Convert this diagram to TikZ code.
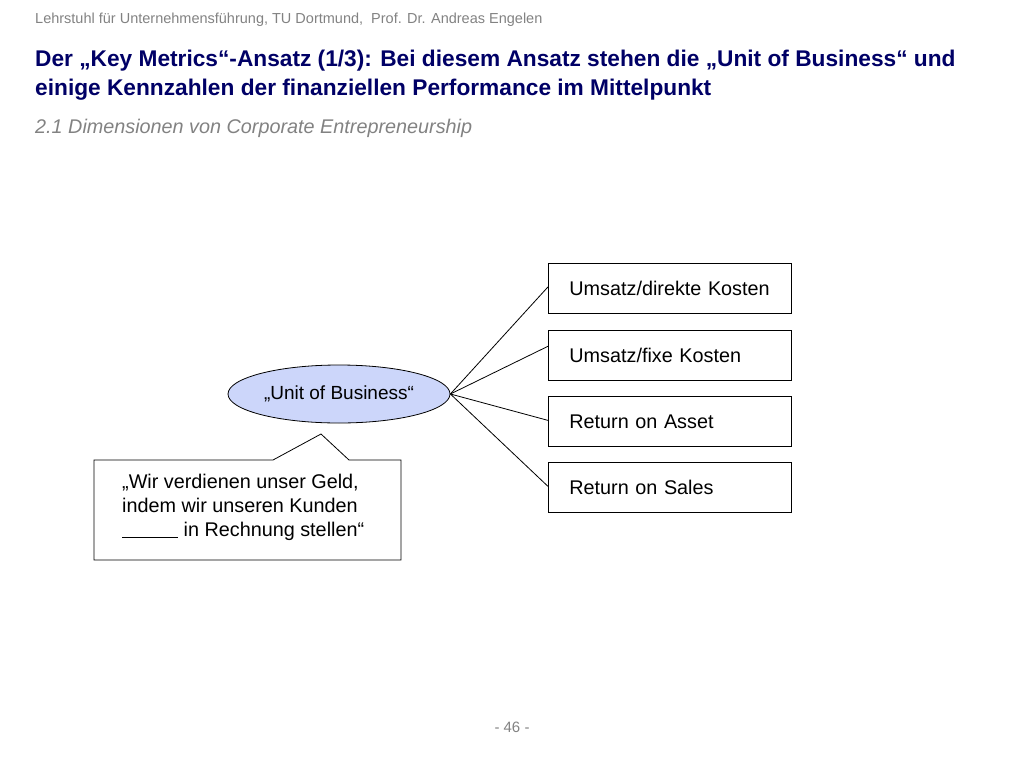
\documentclass[tikz,border=0pt]{standalone}
\usepackage{fontspec}
\setmainfont{Liberation Sans}
\usetikzlibrary{shapes.geometric,calc}
\definecolor{titleblue}{RGB}{0,0,102}
\definecolor{headgray}{RGB}{130,130,130}
\definecolor{ellfill}{RGB}{204,214,250}
\tikzset{
  metric/.style={draw,thick,minimum width=243pt,minimum height=50pt,anchor=north west,
    font=\fontsize{19.8}{23}\selectfont,text width=201pt,inner xsep=21pt,align=left},
  link/.style={draw,line width=0.8pt}
}
\begin{document}
\begin{tikzpicture}[x=1pt,y=-1pt]
  \useasboundingbox (0,0) rectangle (1024,768);
  \node (head) [anchor=west,text=headgray,font=\fontsize{14.5}{16}\selectfont,inner sep=0pt] at (35,20)
    {Lehrstuhl für Unternehmensführung, TU Dortmund,\ \ Prof. Dr. Andreas Engelen};
  \node (title) [anchor=north west,text=titleblue,font=\bfseries\fontsize{22.7}{29}\selectfont,
    align=left,inner sep=0pt] at (35,50)
    {Der „Key Metrics“-Ansatz (1/3): Bei diesem Ansatz stehen die „Unit of Business“ und\\
     einige Kennzahlen der finanziellen Performance im Mittelpunkt};
  \node (sub) [anchor=west,text=headgray,font=\itshape\fontsize{19.8}{21}\selectfont,inner sep=0pt]
    at (35,128) {2.1 Dimensionen von Corporate Entrepreneurship};
  % Unit of Business
  \node (unit) [ellipse,draw,thick,fill=ellfill,minimum width=222pt,minimum height=58pt,
    font=\fontsize{19}{20}\selectfont] at (339,394) {„Unit of Business“};
  % Kennzahlen
  \node (m1) [metric] at (548,263) {Umsatz/direkte Kosten};
  \node (m2) [metric] at (548,330) {Umsatz/fixe Kosten};
  \node (m3) [metric] at (548,396) {Return on Asset};
  \node (m4) [metric] at (548,462) {Return on Sales};
  \foreach \m/\f in {m1/0.47,m2/0.32,m3/0.48,m4/0.48}
    \draw[link] (unit.east) -- ($(\m.north west)!\f!(\m.south west)$);
  % Sprechblase
  \coordinate (tipL) at (273,460);
  \coordinate (tip) at (321,434);
  \coordinate (tipR) at (349,460);
  \draw[thick] (tipL) -- (94,460) -- (94,560) -- (401,560) -- (401,460) -- (tipR) -- (tip) -- (tipL);
  \node (quote) [font=\fontsize{19.8}{24}\selectfont,align=left,anchor=north west,inner sep=0pt] at (122,474)
    {„Wir verdienen unser Geld,\\ indem wir unseren Kunden\\ \rule[-1pt]{56pt}{1pt} in Rechnung stellen“};
  \node (page) [text=headgray,font=\fontsize{15}{16}\selectfont] at (512,727) {- 46 -};
\end{tikzpicture}
\end{document}
